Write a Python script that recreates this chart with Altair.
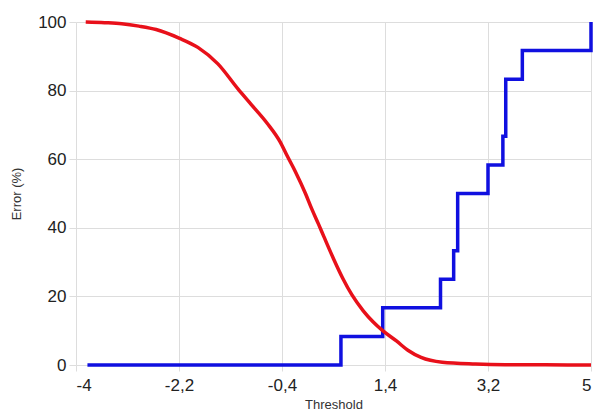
import altair as alt
import pandas as pd

red_x = [-3.83, -3.5, -3.2, -2.9, -2.6, -2.2, -1.87, -1.52, -1.17, -0.94, -0.66, -0.43, -0.31,
         -0.17, 0.01, 0.12, 0.24, 0.33, 0.50, 0.67, 0.82, 1.02, 1.19, 1.36, 1.6, 1.8, 2.03, 2.4,
         2.98, 3.5, 4.2, 5.0]
red_y = [100, 99.8, 99.5, 98.8, 97.8, 95.3, 92.6, 87.8, 80.5, 76, 70.5, 65, 61,
         56.5, 50, 45.5, 41, 37.5, 31, 25, 20.5, 15.8, 12.6, 10, 7, 4.3, 2.2, 0.8,
         0.3, 0.1, 0.05, 0]

blue_x = [-3.8, 0.63, 1.36, 2.37, 2.60, 2.67, 3.20, 3.46, 3.51, 3.80, 5.0]
blue_y = [0, 8.33, 16.67, 25, 33.33, 50, 58.33, 66.67, 83.33, 91.67, 100]

x_ticks = [-4, -2.2, -0.4, 1.4, 3.2, 5]
y_ticks = [0, 20, 40, 60, 80, 100]

red_df = pd.DataFrame({"x": red_x, "y": red_y})
blue_df = pd.DataFrame({"x": blue_x, "y": blue_y})

x_scale = alt.Scale(domain=[-4, 5], nice=False, zero=False)
y_scale = alt.Scale(domain=[0, 100], nice=False)

x_axis = alt.Axis(values=x_ticks, title="Threshold", grid=True, domain=False,
                  labelExpr="replace(datum.value + '', '.', ',')",
                  tickColor="#dddddd", tickSize=6, labelPadding=6,
                  labelFontSize=17, labelColor="#222222", titleFontSize=13,
                  titleFontWeight="normal", titleColor="#333333", titlePadding=5)
y_axis = alt.Axis(values=y_ticks, title="Error (%)", grid=True, domain=False,
                  tickColor="#dddddd", tickSize=7, labelPadding=3,
                  labelFontSize=17, labelColor="#222222", titleFontSize=13,
                  titleFontWeight="normal", titleColor="#333333", titlePadding=14)

red = alt.Chart(red_df).mark_line(color="#e8101a", strokeWidth=3.5, interpolate="monotone").encode(
    x=alt.X("x:Q", scale=x_scale, axis=x_axis),
    y=alt.Y("y:Q", scale=y_scale, axis=y_axis),
)
blue = alt.Chart(blue_df).mark_line(color="#1010e0", strokeWidth=3.5, interpolate="step-after").encode(
    x=alt.X("x:Q", scale=x_scale),
    y=alt.Y("y:Q", scale=y_scale),
)

chart = alt.layer(blue, red).properties(
    width=515, height=343,
    autosize=alt.AutoSizeParams(type="none"),
    padding={"left": 68, "top": 14, "right": 5, "bottom": 46},
).configure_axis(
    gridColor="#dddddd", labelFont="Liberation Sans", titleFont="Liberation Sans"
).configure_view(stroke=None)

chart.save("out.html", embed_options={"renderer": "svg", "actions": False})
